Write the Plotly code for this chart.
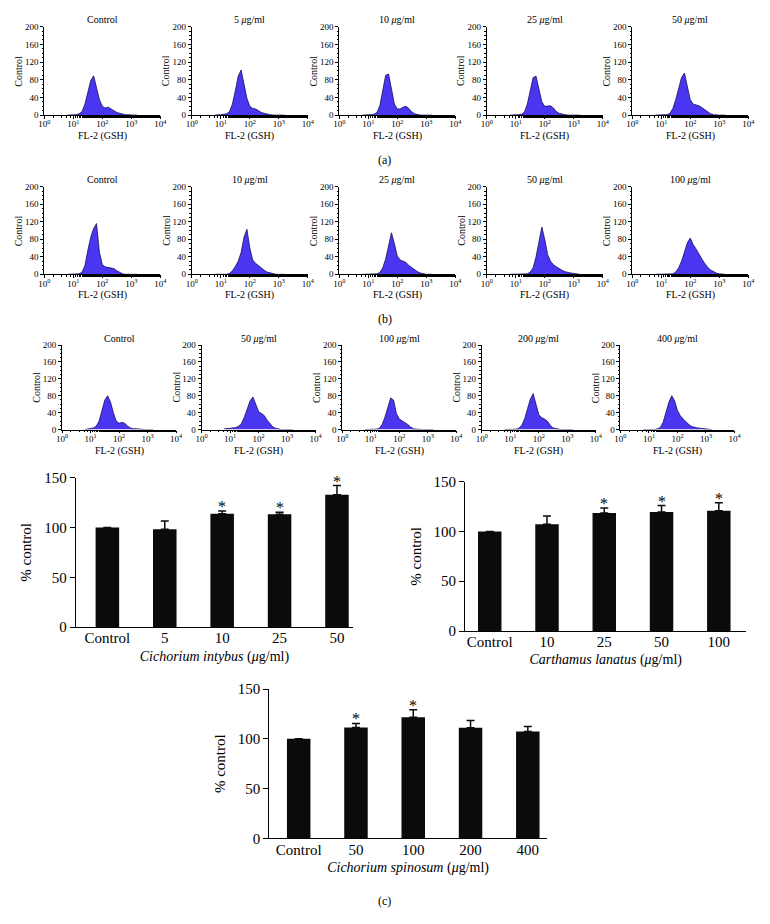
import plotly.graph_objects as go

# ---------------- data ----------------
# histogram bin centres (log10 of FL-2 intensity)
BIN_EXP = [0.8, 0.9, 1.0, 1.1, 1.2, 1.3, 1.4, 1.5, 1.6, 1.7, 1.8, 1.9, 2.0,
           2.1, 2.2, 2.3, 2.4, 2.5, 2.6, 2.7, 2.8, 2.9, 3.0, 3.1, 3.2]

# row (a) Cichorium intybus
A_CTRL = [0, 0, 0, 1, 3, 8, 25, 50, 78, 89, 60, 35, 20, 16, 18, 14, 9, 6, 4, 2, 1, 1, 0, 0, 0]
A_5 = [0, 0, 1, 2, 3, 8, 25, 55, 88, 102, 70, 38, 20, 15, 14, 10, 6, 4, 2, 1, 0, 0, 0, 0, 0]
A_10 = [0, 0, 0, 1, 2, 6, 22, 55, 90, 93, 55, 25, 14, 14, 18, 20, 15, 7, 3, 1, 0, 0, 0, 0, 0]
A_25 = [0, 0, 0, 1, 2, 7, 25, 58, 85, 88, 55, 30, 20, 20, 21, 16, 8, 4, 2, 1, 0, 0, 0, 0, 0]
A_50 = [0, 0, 0, 0, 1, 4, 15, 35, 60, 85, 95, 65, 35, 25, 23, 21, 17, 12, 7, 3, 1, 0, 0, 0, 0]
# row (b) Carthamus lanatus
B_CTRL = [0, 0, 0, 0, 1, 5, 20, 55, 85, 105, 116, 50, 22, 17, 16, 15, 13, 8, 4, 1, 0, 0, 0, 0, 0]
B_10 = [0, 0, 0, 0, 0, 2, 8, 18, 30, 50, 85, 103, 60, 33, 25, 20, 14, 9, 5, 3, 1, 0, 0, 0, 0]
B_25 = [0, 0, 0, 0, 0, 1, 4, 15, 35, 65, 95, 70, 42, 33, 30, 27, 20, 15, 10, 6, 3, 1, 0, 0, 0]
B_50 = [0, 0, 0, 0, 0, 0, 1, 5, 15, 40, 75, 108, 80, 45, 30, 22, 17, 12, 9, 6, 4, 3, 2, 1, 0]
B_100 = [0, 0, 0, 0, 0, 0, 1, 5, 15, 30, 50, 72, 83, 68, 58, 45, 35, 25, 16, 10, 6, 3, 1, 0, 0]
# row (c) Cichorium spinosum
C_CTRL = [0, 1, 2, 4, 8, 20, 45, 70, 80, 65, 40, 20, 15, 17, 15, 8, 4, 2, 2, 1, 0, 0, 0, 0, 0]
C_50 = [2, 2, 3, 4, 5, 8, 15, 30, 50, 68, 77, 58, 42, 38, 33, 22, 13, 6, 3, 1, 0, 0, 0, 0, 0]
C_100 = [0, 0, 0, 0, 1, 3, 12, 30, 55, 75, 70, 38, 25, 21, 18, 12, 6, 2, 1, 0, 0, 0, 0, 0, 0]
C_200 = [0, 0, 0, 0, 1, 3, 10, 25, 48, 72, 85, 60, 35, 28, 25, 20, 10, 4, 2, 1, 0, 0, 0, 0, 0]
C_400 = [0, 0, 0, 0, 0, 2, 5, 18, 40, 65, 80, 68, 45, 33, 25, 18, 12, 7, 5, 4, 3, 2, 1, 0, 0]

TITLES_A = ["Control", "5 <i>μ</i>g/ml", "10 <i>μ</i>g/ml", "25 <i>μ</i>g/ml", "50 <i>μ</i>g/ml"]
TITLES_B = ["Control", "10 <i>μ</i>g/ml", "25 <i>μ</i>g/ml", "50 <i>μ</i>g/ml", "100 <i>μ</i>g/ml"]
TITLES_C = ["Control", "50 <i>μ</i>g/ml", "100 <i>μ</i>g/ml", "200 <i>μ</i>g/ml", "400 <i>μ</i>g/ml"]

FL_TICKS = [1, 10, 100, 1000, 10000]
FL_TICKTEXT = ["10<sup>0</sup>", "10<sup>1</sup>", "10<sup>2</sup>", "10<sup>3</sup>", "10<sup>4</sup>"]
COUNT_TICKS = [0, 40, 80, 120, 160, 200]

# bar charts (None = no error bar drawn)
INTYBUS_CATS = ["Control", "5", "10", "25", "50"]
INTYBUS_VALS = [100, 98.2, 113.7, 113.4, 132.9]
INTYBUS_ERR = [None, 8.3, 3.0, 2.0, 9.2]
INTYBUS_SIG = [False, False, True, True, True]

LANATUS_CATS = ["Control", "10", "25", "50", "100"]
LANATUS_VALS = [100, 107.1, 118.4, 119.4, 120.7]
LANATUS_ERR = [None, 8.3, 5.2, 6.6, 8.2]
LANATUS_SIG = [False, False, True, True, True]

SPINOSUM_CATS = ["Control", "50", "100", "200", "400"]
SPINOSUM_VALS = [100, 111.4, 121.7, 111.1, 107.2]
SPINOSUM_ERR = [None, 4.0, 7.5, 7.3, 5.2]
SPINOSUM_SIG = [False, True, True, False, False]

# ---------------- layout helpers ----------------
W, H = 770, 924
FONT = "Liberation Serif"
FILL = "#4a35f0"
EDGE = "#14125a"


def dx(p):
    return p / W


def dy(p):
    return 1 - p / H


def names(k):
    s = "" if k == 1 else str(k)
    return "x" + s, "y" + s, "xaxis" + s, "yaxis" + s


fig = go.Figure()
axes = {}
ann = []

ROWS = [
    dict(label="(a)", label_y=155, xs=[39, 189, 339, 489, 637], w=118, top=19, bot=109,
         titles=TITLES_A, series=[A_CTRL, A_5, A_10, A_25, A_50]),
    dict(label="(b)", label_y=316, xs=[39, 189, 339, 489, 637], w=118, top=182, bot=271,
         titles=TITLES_B, series=[B_CTRL, B_10, B_25, B_50, B_100]),
    dict(label=None, label_y=None, xs=[57, 199, 342, 484, 625], w=116, top=343, bot=429,
         titles=TITLES_C, series=[C_CTRL, C_50, C_100, C_200, C_400]),
]

fl_x = [10 ** e for e in BIN_EXP]
k = 0
for row in ROWS:
    for j in range(5):
        k += 1
        xa, ya, xk, yk = names(k)
        fig.add_trace(go.Scatter(
            x=fl_x, y=row["series"][j], xaxis=xa, yaxis=ya, mode="lines",
            fill="tozeroy", fillcolor=FILL, line=dict(color=EDGE, width=0.8),
            showlegend=False, hoverinfo="skip", cliponaxis=True))
        x0 = row["xs"][j]
        axes[xk] = dict(
            domain=[dx(x0), dx(x0 + row["w"])], anchor=ya, type="log", range=[0, 4],
            tickvals=FL_TICKS, ticktext=FL_TICKTEXT, ticks="outside", ticklen=2.5,
            tickwidth=1, tickcolor="black", showline=True, linecolor="black", linewidth=1,
            showgrid=False, zeroline=False, ticklabelstandoff=-2,
            minor=dict(ticks="outside", ticklen=1.5, tickcolor="black", showgrid=False),
            tickfont=dict(family=FONT, size=9, color="black"))
        axes[yk] = dict(
            domain=[dy(row["bot"]), dy(row["top"])], anchor=xa, range=[0, 200],
            tickvals=COUNT_TICKS, ticks="outside", ticklen=3, tickwidth=1, tickcolor="black",
            showline=True, linecolor="black", linewidth=1, showgrid=False, zeroline=False,
            minor=dict(ticks="outside", ticklen=1.5, dtick=10, tickcolor="black", showgrid=False),
            tickfont=dict(family=FONT, size=9, color="black"))
        # panel title
        ann.append(dict(text=row["titles"][j], xref=f"{xa} domain", yref=f"{ya} domain",
                        x=0.5, y=1, xanchor="center", yanchor="middle", yshift=7,
                        showarrow=False, font=dict(family=FONT, size=10, color="black")))
        # x title
        ann.append(dict(text="FL-2 (GSH)", xref=f"{xa} domain", yref=f"{ya} domain",
                        x=0.5, y=0, xanchor="center", yanchor="middle", yshift=-21,
                        showarrow=False, font=dict(family=FONT, size=10, color="black")))
        # y title
        ann.append(dict(text="Control", xref="paper", yref=f"{ya} domain",
                        x=dx(x0 - 26), y=0.5, xanchor="center", yanchor="middle",
                        textangle=-90, showarrow=False,
                        font=dict(family=FONT, size=10, color="black")))
    if row["label"]:
        ann.append(dict(text=row["label"], xref="paper", yref="paper", x=dx(385),
                        y=dy(row["label_y"]), xanchor="center", yanchor="middle",
                        showarrow=False, font=dict(family=FONT, size=12, color="black")))

BARS = [
    dict(cats=INTYBUS_CATS, vals=INTYBUS_VALS, err=INTYBUS_ERR, sig=INTYBUS_SIG,
         x0=71, x1=353, top=478, bot=630, rng=[-0.55, 4.28],
         title="<i>Cichorium intybus</i> (<i>μ</i>g/ml)"),
    dict(cats=LANATUS_CATS, vals=LANATUS_VALS, err=LANATUS_ERR, sig=LANATUS_SIG,
         x0=467, x1=753, top=482, bot=634, rng=[-0.43, 4.48],
         title="<i>Carthamus lanatus</i> (<i>μ</i>g/ml)"),
    dict(cats=SPINOSUM_CATS, vals=SPINOSUM_VALS, err=SPINOSUM_ERR, sig=SPINOSUM_SIG,
         x0=268, x1=550, top=693, bot=845, rng=[-0.51, 4.33],
         title="<i>Cichorium spinosum</i> (<i>μ</i>g/ml)"),
]

for b in BARS:
    k += 1
    xa, ya, xk, yk = names(k)
    fig.add_trace(go.Bar(
        x=b["cats"], y=b["vals"], xaxis=xa, yaxis=ya, width=0.41,
        marker=dict(color="#0b0b0b", line=dict(width=0)),
        error_y=dict(type="data", symmetric=False, array=b["err"],
                     arrayminus=[0] * len(b["err"]), color="#0b0b0b",
                     thickness=1.5, width=4),
        showlegend=False, hoverinfo="skip"))
    axes[xk] = dict(
        domain=[dx(b["x0"]), dx(b["x1"])], anchor=ya, type="category", range=b["rng"],
        showline=True, linecolor="black", linewidth=1.3, ticks="", showgrid=False,
        ticklabelstandoff=-3,
        tickfont=dict(family=FONT, size=15, color="black"),
        title=dict(text=b["title"], font=dict(family=FONT, size=14, color="black"),
                   standoff=5))
    axes[yk] = dict(
        domain=[dy(b["bot"]), dy(b["top"])], anchor=xa, range=[0, 150],
        tickvals=[0, 50, 100, 150], ticks="outside", ticklen=5, tickwidth=1.3,
        tickcolor="black", showline=True, linecolor="black", linewidth=1.3,
        showgrid=False, zeroline=False,
        tickfont=dict(family=FONT, size=15, color="black"),
        title=dict(text="% control", font=dict(family=FONT, size=15, color="black"),
                   standoff=8))
    for i, (v, e, s) in enumerate(zip(b["vals"], b["err"], b["sig"])):
        if s:
            ann.append(dict(text="*", x=i, y=v + (e or 0), xref=xa, yref=ya,
                            xanchor="center", yanchor="bottom", yshift=-6,
                            showarrow=False,
                            font=dict(family=FONT, size=16, color="black")))

ann.append(dict(text="(c)", xref="paper", yref="paper", x=dx(385), y=dy(909),
                xanchor="center", yanchor="middle", showarrow=False,
                font=dict(family=FONT, size=12, color="black")))

fig.update_layout(
    width=W, height=H, margin=dict(l=0, r=0, t=0, b=0),
    paper_bgcolor="white", plot_bgcolor="white",
    font=dict(family=FONT, color="black"),
    annotations=ann, bargap=0.5, **axes)

fig.write_html(
    "out.html",
    config={"displayModeBar": False},
    post_script="document.body.style.margin='0';document.body.style.padding='0';"
                "document.body.style.overflow='hidden';")
